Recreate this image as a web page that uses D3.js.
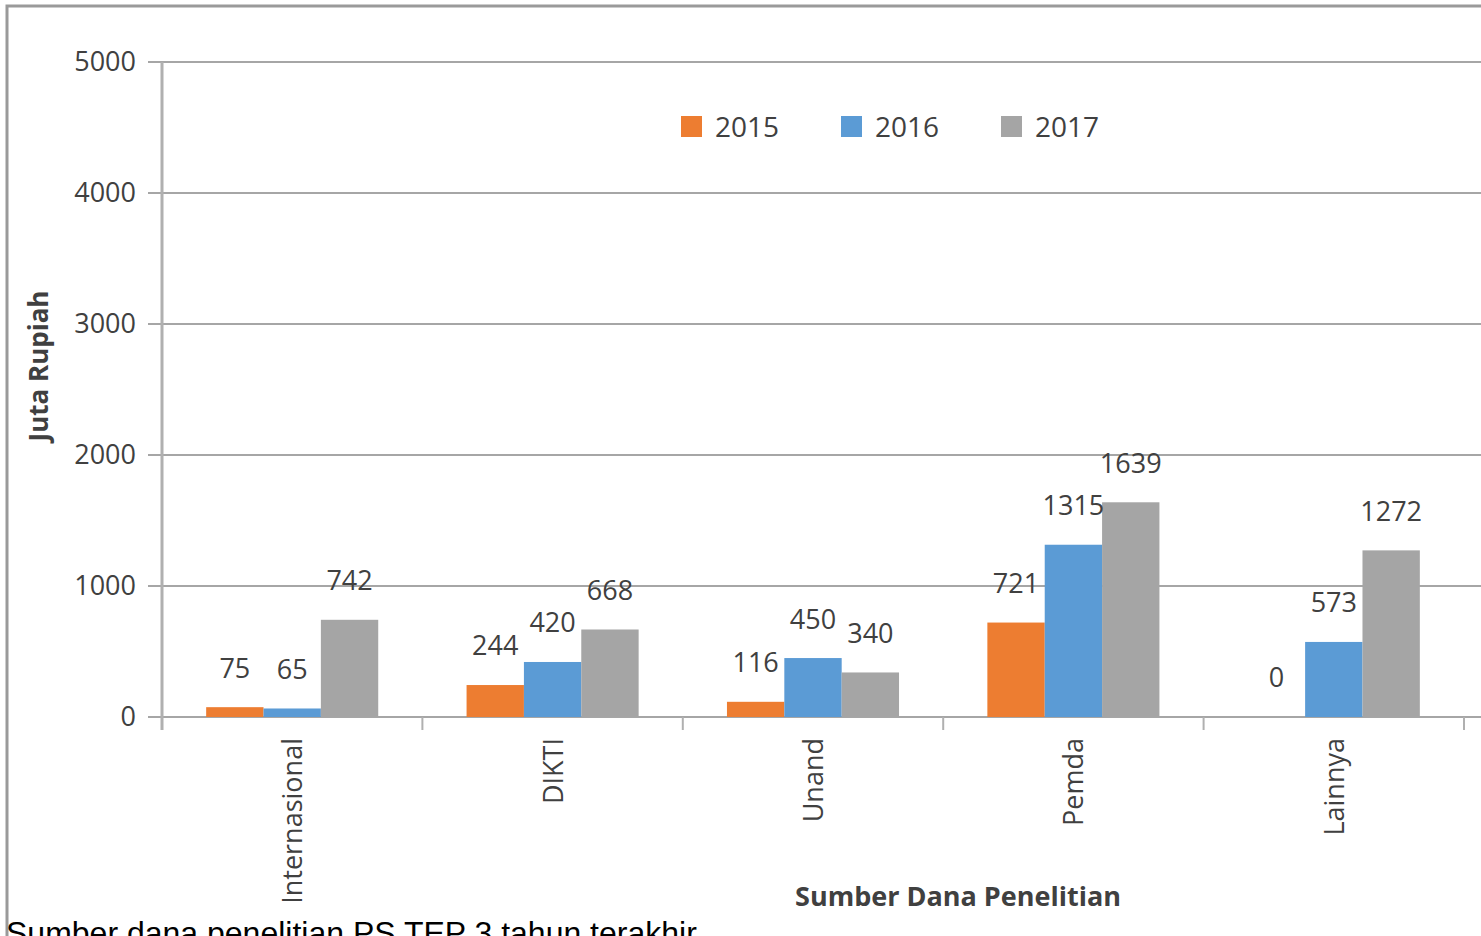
<!DOCTYPE html>
<html>
<head>
<meta charset="utf-8">
<title>Sumber Dana Penelitian</title>
<script src="https://cdn.jsdelivr.net/npm/d3@7"></script>
<style>
	html, body { margin: 0; padding: 0; background: white; overflow: hidden; }
	svg { display: block; }
	text { font-family: 'Open Sans', 'Noto Sans', sans-serif; fill: #404040; }
</style>
</head>
<body>
<div id="vis"></div>
<script>

// data
var categories = ["Internasional", "DIKTI", "Unand", "Pemda", "Lainnya"];
var years = ["2015", "2016", "2017"];
var v2015 = [75, 244, 116, 721, 0];
var v2016 = [65, 420, 450, 1315, 573];
var v2017 = [742, 668, 340, 1639, 1272];
var yTicks = [0, 1000, 2000, 3000, 4000, 5000];
var colors = ["#ED7D31", "#5B9BD5", "#A5A5A5"];

var series = [v2015, v2016, v2017];

var width = 1481, height = 936;
var plotLeft = 162, plotTop = 62, plotBottom = 717;
var bandW = 260.4;

var svg = d3.select("#vis").append("svg")
	.attr("width", width)
	.attr("height", height);

// outer frame
svg.append("path")
	.attr("d", "M7," + (height + 5) + " L7,6 L" + (width + 5) + ",6")
	.attr("fill", "none")
	.attr("stroke", "#9a9a9a")
	.attr("stroke-width", 3);

var y = d3.scaleLinear().domain([0, 5000]).range([plotBottom, plotTop]);
var x = d3.scaleBand().domain(categories)
	.range([plotLeft, plotLeft + bandW * categories.length])
	.paddingInner(0).paddingOuter(0);
var xs = d3.scaleBand().domain(years)
	.range([0, x.bandwidth()])
	.paddingInner(0).paddingOuter(0.77);

// gridlines
svg.append("g").selectAll("line")
	.data(yTicks)
	.join("line")
	.attr("x1", 148).attr("x2", width)
	.attr("y1", d => y(d)).attr("y2", d => y(d))
	.attr("stroke", "#a6a6a6")
	.attr("stroke-width", 2);

// y axis line
svg.append("line")
	.attr("x1", plotLeft).attr("x2", plotLeft)
	.attr("y1", plotTop).attr("y2", 730)
	.attr("stroke", "#b0b0b0")
	.attr("stroke-width", 3);

// y tick labels
svg.append("g").selectAll("text")
	.data(yTicks)
	.join("text")
	.attr("x", 136)
	.attr("y", d => y(d))
	.attr("dy", "0.35em")
	.attr("text-anchor", "end")
	.style("font-size", "27px")
	.text(d => d);

// x ticks
var bounds = categories.map(c => x(c)).concat([x(categories[categories.length - 1]) + x.bandwidth()]);
svg.append("g").selectAll("line")
	.data(bounds)
	.join("line")
	.attr("x1", d => d).attr("x2", d => d)
	.attr("y1", plotBottom).attr("y2", 730)
	.attr("stroke", "#b0b0b0")
	.attr("stroke-width", 2);

// bars
var groups = svg.append("g").selectAll("g")
	.data(categories)
	.join("g")
	.attr("transform", d => "translate(" + x(d) + ",0)");

groups.selectAll("rect")
	.data((c, i) => years.map((yr, j) => ({ yr: yr, j: j, v: series[j][i] })))
	.join("rect")
	.attr("x", d => xs(d.yr))
	.attr("width", xs.bandwidth())
	.attr("y", d => y(d.v))
	.attr("height", d => plotBottom - y(d.v))
	.attr("fill", d => colors[d.j]);

groups.selectAll("text.val")
	.data((c, i) => years.map((yr, j) => ({ yr: yr, j: j, v: series[j][i] })))
	.join("text")
	.attr("class", "val")
	.attr("x", d => xs(d.yr) + xs.bandwidth() / 2)
	.attr("y", d => y(d.v) - 39)
	.attr("dy", "0.35em")
	.attr("text-anchor", "middle")
	.style("font-size", "27px")
	.text(d => d.v);

// category labels
svg.append("g").selectAll("text")
	.data(categories)
	.join("text")
	.attr("transform", d => "translate(" + (x(d) + x.bandwidth() / 2 + 10) + ",738) rotate(-90)")
	.attr("text-anchor", "end")
	.style("font-size", "27px")
	.text(d => d);

// axis titles
svg.append("text")
	.attr("x", 958).attr("y", 906)
	.attr("text-anchor", "middle")
	.style("font-size", "27px")
	.style("font-weight", "bold")
	.text("Sumber Dana Penelitian");

svg.append("text")
	.attr("transform", "translate(48,366) rotate(-90)")
	.attr("text-anchor", "middle")
	.style("font-size", "26px")
	.style("font-weight", "bold")
	.text("Juta Rupiah");

// legend
var legend = svg.append("g").selectAll("g")
	.data(years)
	.join("g")
	.attr("transform", (d, i) => "translate(" + (681 + i * 160) + ",116)");

legend.append("rect")
	.attr("width", 21).attr("height", 21)
	.attr("fill", (d, i) => colors[i]);

legend.append("text")
	.attr("x", 34).attr("y", 11)
	.attr("dy", "0.35em")
	.style("font-size", "28px")
	.text(d => d);

// caption
svg.append("text")
	.attr("x", 6).attr("y", 944)
	.style("font-family", "'Liberation Sans', Arial, sans-serif")
	.style("font-size", "32px")
	.style("fill", "#000")
	.text("Sumber dana penelitian PS TEP 3 tahun terakhir");

</script>
</body>
</html>
